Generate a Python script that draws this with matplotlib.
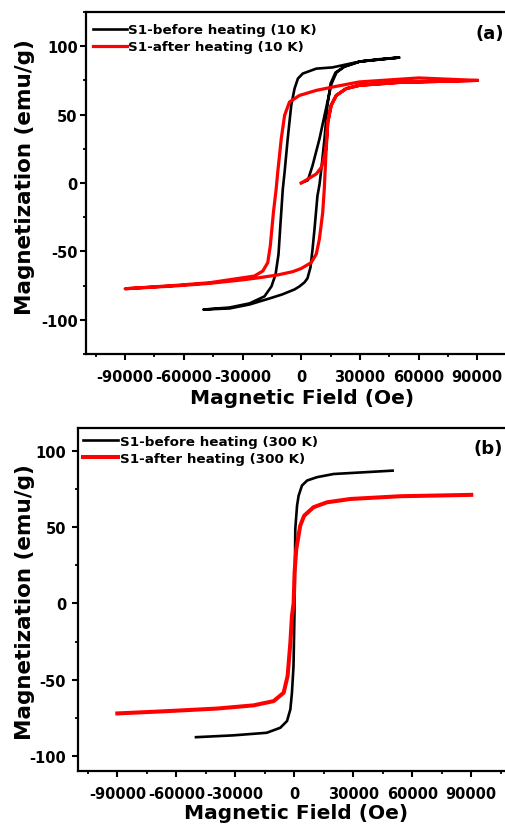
import numpy as np
import matplotlib
matplotlib.use("Agg")
import matplotlib.pyplot as plt
from matplotlib.ticker import MultipleLocator, FormatStrFormatter

# ---- (a) 10 K loops ----
# S1 before heating: virgin curve, then down-sweep, then up-sweep (Oe, emu/g)
H_BEFORE_10K_INIT = [0, 3400, 5800, 9350, 13440, 15500, 18000, 22000, 30000, 40000, 50000]
M_BEFORE_10K_INIT = [0, 2, 12.7, 32.3, 59.4, 72.5, 80.7, 85, 88.8, 90.5, 91.7]
H_BEFORE_10K_DOWN = [50000, 30000, 16000, 7700, 800, -1700, -3400, -5100, -6900, -8500, -9400,
                     -10600, -11600, -13100, -15200, -18800, -26400, -36600, -50000]
M_BEFORE_10K_DOWN = [91.7, 88.8, 84.5, 83.6, 80, 76.3, 69, 56.7, 32.3, 7.8, -4.4,
                     -30, -52.1, -66.8, -75.6, -82.9, -88.0, -91.0, -92.5]
H_BEFORE_10K_UP = [-50000, -36600, -26400, -16200, -9600, -3400, -900, 1700, 3200, 4750, 5800,
                   6800, 8300, 9400, 10400, 11900, 13400, 15000, 17500, 22100, 30000, 50000]
M_BEFORE_10K_UP = [-92.5, -91.7, -88.8, -84.4, -81.4, -77.8, -75.6, -72.6, -69.7, -61.6, -48.4,
                   -33.7, -9.5, -0.7, 11.7, 32.3, 56.5, 72.6, 80.7, 85.1, 88.8, 91.7]

# S1 after heating
H_AFTER_10K_INIT = [0, 3400, 7700, 10300, 11500, 12600, 13600, 15300, 17900, 23000, 29800, 50000, 90000]
M_AFTER_10K_INIT = [0, 2.9, 6.6, 11.5, 17.6, 25, 44.5, 56.7, 64, 69, 71.4, 73.5, 75]
H_AFTER_10K_DOWN = [90000, 60000, 29800, 16200, 7700, -900, -6000, -8500, -10200, -12000, -12800,
                    -14200, -15800, -17100, -19600, -23900, -46900, -63900, -90000]
M_AFTER_10K_DOWN = [77.8, 76.8, 73.9, 70.2, 67.7, 64, 59.2, 49.4, 32.3, 7.8, -4.4,
                    -21.5, -46, -58.2, -64.3, -68, -72.9, -74.8, -77.3]
H_AFTER_10K_UP = [-90000, -64000, -47000, -30000, -21300, -12000, -4300, 0, 5100, 7700, 9300,
                  11000, 11800, 12600, 13600, 15300, 17900, 23000, 29800, 50000, 90000]
M_AFTER_10K_UP = [-77.3, -75.2, -73.4, -70.8, -69.2, -67.2, -64.8, -62.5, -58.2, -52, -41,
                  -21.5, -4.4, 20, 44.5, 56.7, 64, 69, 71.4, 73.5, 75]

# ---- (b) 300 K curves ----
H_BEFORE_300K = [-50000, -31000, -14000, -7100, -3700, -2000, -1200, -400, 150, 500, 1400,
                 2200, 3900, 6500, 11500, 20000, 50000]
M_BEFORE_300K = [-87.8, -86.6, -84.9, -81.6, -77.2, -69.5, -58.6, -41, -1.6, 48.9, 64.2,
                 70.8, 77.4, 80.7, 82.9, 85, 87.2]
H_AFTER_300K = [-90000, -64700, -39300, -20700, -10500, -5400, -3400, -2000, -1200, -350, 150,
                1000, 3000, 5000, 9800, 16600, 28500, 53900, 90000]
M_AFTER_300K = [-72.2, -70.7, -69.0, -66.9, -64.1, -58.6, -47.6, -25.7, -8.2, 0, 20.4,
                35.7, 51, 57.6, 63.2, 66.4, 68.6, 70.4, 71.3]

LABELS_10K = ["S1-before heating (10 K)", "S1-after heating (10 K)"]
LABELS_300K = ["S1-before heating (300 K)", "S1-after heating (300 K)"]


def set_style():
    plt.rcParams["font.family"] = ["DejaVu Sans"]
    plt.rcParams["font.weight"] = "bold"
    plt.rcParams["axes.unicode_minus"] = False
    plt.rcParams["axes.linewidth"] = 1.6


def style_axis(ax, ylim, ypad):
    ax.set_xlim(-110000, 110000)
    ax.set_ylim(*ylim)
    ax.spines["right"].set_visible(False)
    ax.xaxis.set_major_locator(MultipleLocator(30000))
    ax.xaxis.set_minor_locator(MultipleLocator(15000))
    ax.yaxis.set_major_locator(MultipleLocator(50))
    ax.yaxis.set_minor_locator(MultipleLocator(25))
    ax.xaxis.set_major_formatter(FormatStrFormatter("%d"))
    ax.yaxis.set_major_formatter(FormatStrFormatter("%d"))
    ax.tick_params(which="major", direction="out", length=4.5, width=1.5, labelsize=10.5)
    ax.tick_params(which="minor", direction="out", length=2.5, width=1.3)
    ax.tick_params(axis="x", which="major", pad=6)
    ax.tick_params(axis="y", which="major", pad=ypad)
    ax.set_xlabel("Magnetic Field (Oe)", fontsize=14.5, fontweight="bold")
    ax.set_ylabel("Magnetization (emu/g)", fontsize=15.5, fontweight="bold")


def main():
    set_style()
    fig = plt.figure(figsize=(5.06, 8.28), dpi=100)

    # ---- panel (a) ----
    ax1 = fig.add_axes([86 / 506, 473 / 828, 430.4 / 506, 342 / 828])
    h_b = np.concatenate([H_BEFORE_10K_INIT, H_BEFORE_10K_DOWN[1:], H_BEFORE_10K_UP[1:]])
    m_b = np.concatenate([M_BEFORE_10K_INIT, M_BEFORE_10K_DOWN[1:], M_BEFORE_10K_UP[1:]])
    h_a = np.concatenate([H_AFTER_10K_INIT, H_AFTER_10K_DOWN[1:], H_AFTER_10K_UP[1:]])
    m_a = np.concatenate([M_AFTER_10K_INIT, M_AFTER_10K_DOWN[1:], M_AFTER_10K_UP[1:]])
    ax1.plot(h_b, m_b, color="black", lw=1.9, label=LABELS_10K[0], solid_joinstyle="round")
    ax1.plot(h_a, m_a, color="#ff0000", lw=2.3, label=LABELS_10K[1], solid_joinstyle="round")
    style_axis(ax1, (-125, 125), 1.5)
    ax1.xaxis.set_label_coords(0.503, -0.10)
    ax1.yaxis.set_label_coords(-0.118, 0.519)
    ax1.legend(loc="upper left", bbox_to_anchor=(0.016, 0.967), frameon=False,
               fontsize=9.7, handlelength=2.5, handletextpad=0.1, labelspacing=0.3,
               borderpad=0, borderaxespad=0)
    fig.text(476 / 506, 1 - 34 / 828, "(a)", ha="left", va="center",
             fontsize=13, fontweight="bold")

    # ---- panel (b) ----
    ax2 = fig.add_axes([78 / 506, 56 / 828, 432.6 / 506, 342.7 / 828])
    ax2.plot(H_BEFORE_300K, M_BEFORE_300K, color="black", lw=1.9, label=LABELS_300K[0])
    ax2.plot(H_AFTER_300K, M_AFTER_300K, color="#ff0000", lw=2.9, label=LABELS_300K[1])
    style_axis(ax2, (-110, 115), 4)
    ax2.xaxis.set_label_coords(0.504, -0.093)
    ax2.yaxis.set_label_coords(-0.1, 0.496)
    ax2.legend(loc="upper left", bbox_to_anchor=(0.012, 0.98), frameon=False,
               fontsize=9.7, handlelength=2.6, handletextpad=0.1, labelspacing=0.3,
               borderpad=0, borderaxespad=0)
    fig.text(474 / 506, 1 - 449 / 828, "(b)", ha="left", va="center",
             fontsize=13, fontweight="bold")

    fig.savefig("out.png", dpi=100)


if __name__ == "__main__":
    main()
